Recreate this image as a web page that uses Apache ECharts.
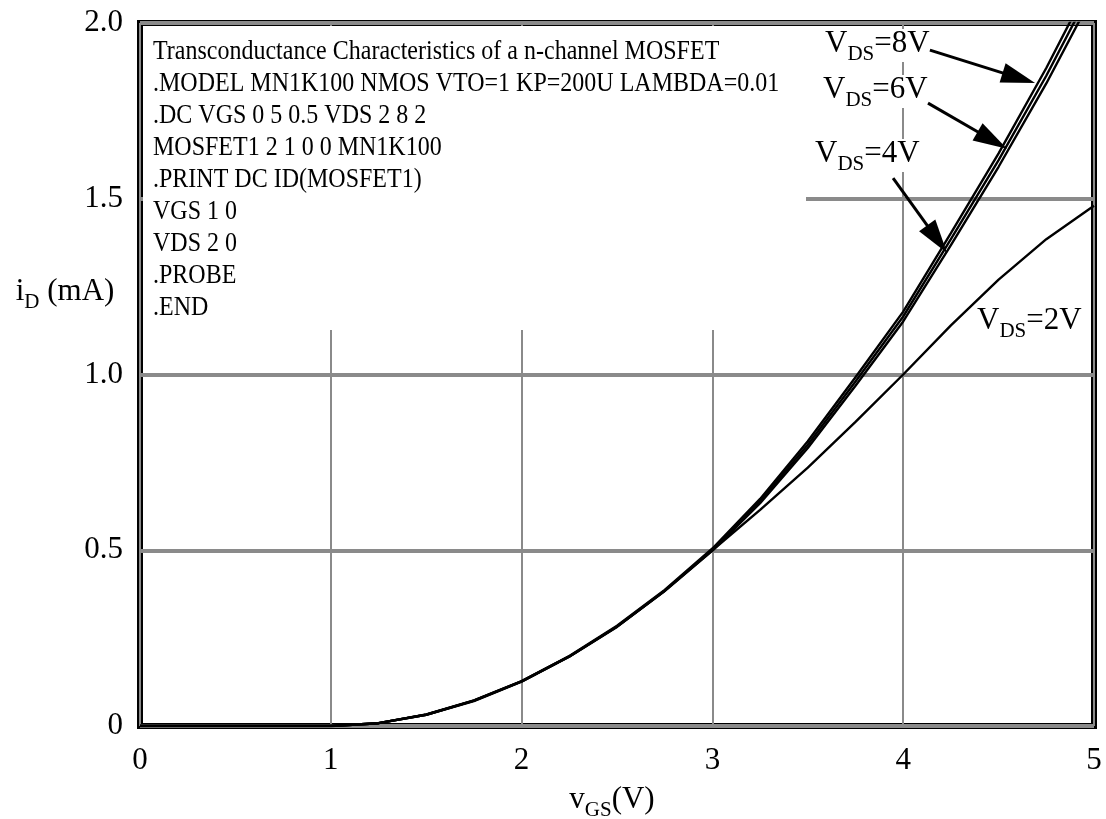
<!DOCTYPE html>
<html>
<head>
<meta charset="utf-8">
<script src="https://cdn.jsdelivr.net/npm/echarts@6/dist/echarts.min.js"></script>
<style>
html,body{margin:0;padding:0;background:#fff;}
#c{width:1106px;height:819px;}
</style>
</head>
<body>
<div id="c"></div>
<script>
// ---------- data ----------
const vgs = [0, 0.25, 0.5, 0.75, 1, 1.25, 1.5, 1.75, 2, 2.25, 2.5, 2.75, 3, 3.25, 3.5, 3.75, 4, 4.25, 4.5, 4.75, 5];
const idVds2 = [0, 0, 0, 0, 0, 0.008, 0.032, 0.072, 0.127, 0.198, 0.283, 0.385, 0.500, 0.615, 0.735, 0.865, 1.000, 1.140, 1.270, 1.385, 1.480];
const idVds4 = [0, 0, 0, 0, 0, 0.008, 0.032, 0.071, 0.126, 0.197, 0.282, 0.384, 0.499, 0.634, 0.791, 0.968, 1.151, 1.368, 1.591, 1.828, 2.085];
const idVds6 = [0, 0, 0, 0, 0, 0.008, 0.032, 0.072, 0.127, 0.198, 0.283, 0.385, 0.502, 0.640, 0.800, 0.980, 1.165, 1.385, 1.610, 1.850, 2.110];
const idVds8 = [0, 0, 0, 0, 0, 0.008, 0.033, 0.073, 0.128, 0.199, 0.285, 0.387, 0.505, 0.646, 0.810, 0.992, 1.179, 1.402, 1.629, 1.872, 2.135];

const xTickLabels = ['0', '1', '2', '3', '4', '5'];
const yTickLabels = ['0', '0.5', '1.0', '1.5', '2.0'];

const netlist = [
  'Transconductance Characteristics of a n-channel MOSFET',
  '.MODEL MN1K100 NMOS VTO=1 KP=200U LAMBDA=0.01',
  '.DC VGS 0 5 0.5 VDS 2 8 2',
  'MOSFET1 2 1 0 0 MN1K100',
  '.PRINT DC ID(MOSFET1)',
  'VGS 1 0',
  'VDS 2 0',
  '.PROBE',
  '.END'
];

// curve annotations: label value, arrow start and arrow tip in data coordinates
const labelValues = ['8V', '6V', '4V', '2V'];
const arrowStarts = [[4.140, 1.923], [4.130, 1.772], [3.947, 1.559]];
const arrowTips   = [[4.691, 1.829], [4.544, 1.642], [4.230, 1.346]];

// ---------- chart ----------
const FONT = '"Liberation Serif", "Times New Roman", serif';
const chart = echarts.init(document.getElementById('c'));

function pairs(ys) { return vgs.map((x, i) => [x, ys[i]]); }

const seriesDefs = [
  ['VDS=2V', idVds2],
  ['VDS=4V', idVds4],
  ['VDS=6V', idVds6],
  ['VDS=8V', idVds8]
];

const series = seriesDefs.map(([name, ys]) => ({
  type: 'line',
  name: name,
  data: pairs(ys),
  showSymbol: false,
  symbol: 'none',
  smooth: false,
  clip: true,
  z: 3,
  lineStyle: { color: '#000', width: 2.4 },
  animation: false
}));

chart.setOption({
  animation: false,
  backgroundColor: '#fff',
  grid: {
    left: 140, right: 12, top: 23, bottom: 93,
    show: true, borderColor: '#000', borderWidth: 6,
    backgroundColor: 'transparent'
  },
  xAxis: {
    type: 'value', min: 0, max: 5, interval: 1,
    axisLine: { show: false },
    axisTick: { show: false },
    axisLabel: {
      margin: 19, color: '#000', fontFamily: FONT, fontSize: 31,
      formatter: v => xTickLabels[Math.round(v)]
    },
    splitLine: { show: true, lineStyle: { color: '#8a8a8a', width: 2 } }
  },
  yAxis: {
    type: 'value', min: 0, max: 2, interval: 0.5,
    axisLine: { show: false },
    axisTick: { show: false },
    axisLabel: {
      margin: 17, color: '#000', fontFamily: FONT, fontSize: 31,
      formatter: v => yTickLabels[Math.round(v / 0.5)]
    },
    splitLine: { show: true, lineStyle: { color: '#8a8a8a', width: 4 } }
  },
  series: series
});

// ---------- annotations ----------
const elements = [];
const measureCtx = document.createElement('canvas').getContext('2d');
function measure(text, size) {
  measureCtx.font = size + 'px ' + FONT;
  return measureCtx.measureText(text).width;
}
// text made of pieces with subscripts: parts = [[text, fontSize, dy], ...]
function subText(x, y, parts, align, withBg) {
  const widths = parts.map(p => measure(p[0], p[1]));
  const total = widths.reduce((a, b) => a + b, 0);
  let cx = align === 'center' ? x - total / 2 : x;
  if (withBg) {
    // white backing below the curves but above the grid lines
    elements.push({
      type: 'rect', z: 1,
      shape: { x: cx - 2, y: y - 15, width: total + 4, height: 33 },
      style: { fill: '#fff' }
    });
  }
  parts.forEach((p, i) => {
    elements.push({
      type: 'text', z: 10, x: cx, y: y + p[2],
      style: {
        text: p[0], fill: '#000', fontSize: p[1], fontFamily: FONT,
        align: 'left', verticalAlign: 'middle'
      }
    });
    cx += widths[i];
  });
}

// white panel behind the netlist text (hides the grid lines there)
elements.push({
  type: 'rect', z: 1,
  shape: { x: 143, y: 26, width: 663, height: 304 },
  style: { fill: '#fff' }
});

netlist.forEach((line, i) => {
  elements.push({
    type: 'text', z: 10,
    x: 153, y: 52 + 32 * i, scaleY: 1.12,
    style: {
      text: line, fill: '#000', fontSize: 24, fontFamily: FONT,
      align: 'left', verticalAlign: 'middle'
    }
  });
});

// axis names
subText(65, 292, [['i', 31, 0], ['D', 21, 10], [' (mA)', 31, 0]], 'center', false);
subText(612, 800, [['v', 31, 0], ['GS', 21, 10], ['(V)', 31, 0]], 'center', false);

// curve labels
const labelPos = [[825, 44], [823, 90], [815, 154], [977, 321]];
labelValues.forEach((val, i) => {
  subText(labelPos[i][0], labelPos[i][1],
    [['V', 31, 0], ['DS', 21, 10], ['=' + val, 31, 0]], 'left', true);
});

// arrows
arrowTips.forEach((tipD, i) => {
  const s = chart.convertToPixel({ gridIndex: 0 }, arrowStarts[i]);
  const t = chart.convertToPixel({ gridIndex: 0 }, tipD);
  const dx = t[0] - s[0], dy = t[1] - s[1];
  const len = Math.sqrt(dx * dx + dy * dy);
  const ux = dx / len, uy = dy / len;
  const headLen = 34, headHalf = 10;
  const bx = t[0] - ux * headLen, by = t[1] - uy * headLen;
  elements.push({
    type: 'line', z: 9,
    shape: { x1: s[0], y1: s[1], x2: bx + ux * 4, y2: by + uy * 4 },
    style: { stroke: '#000', lineWidth: 3 }
  });
  elements.push({
    type: 'polygon', z: 9,
    shape: { points: [[t[0], t[1]], [bx - uy * headHalf, by + ux * headHalf], [bx + uy * headHalf, by - ux * headHalf]] },
    style: { fill: '#000' }
  });
});

chart.setOption({ graphic: { elements: elements } });
</script>
</body>
</html>
